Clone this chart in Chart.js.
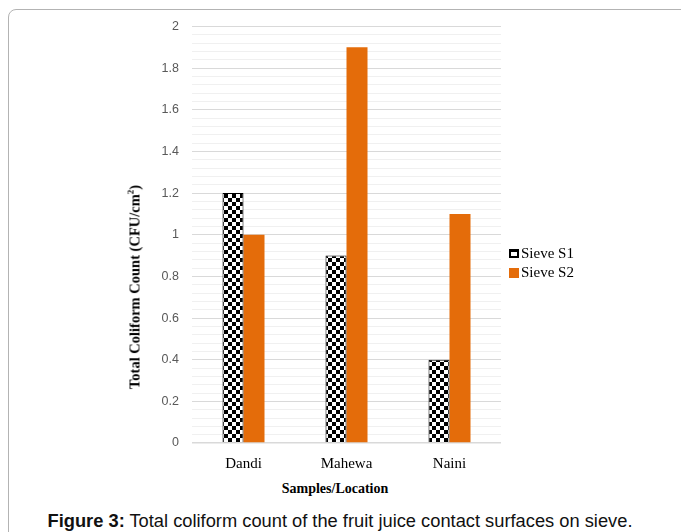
<!DOCTYPE html>
<html>
<head>
<meta charset="utf-8">
<script src="https://cdn.jsdelivr.net/npm/chart.js@4.4.1/dist/chart.umd.min.js"></script>
<style>
  html, body { margin: 0; padding: 0; background: #fff; overflow: hidden; }
  body { width: 681px; height: 532px; position: relative; }
  .frame { position: absolute; left: 8px; top: 9px; width: 720px; height: 600px;
           border: 1px solid #b3b3b3; border-radius: 8px; }
  #wrap { position: absolute; left: 100px; top: 6px; width: 420px; height: 474px; }
  .ytitle { position: absolute; left: 135px; top: 287px; transform: translate(-50%, -50%) rotate(-90deg);
            font: bold 14.5px "Liberation Serif", serif; white-space: nowrap; color: #000; }
  .ytitle sup { font-size: 9px; vertical-align: 6px; line-height: 0; }
  .xtitle { position: absolute; left: 335px; top: 489px; transform: translate(-50%, -50%);
            font: bold 14px "Liberation Serif", serif; white-space: nowrap; color: #000; }
  .legend { position: absolute; left: 509px; top: 244px; font: 15px "Liberation Serif", serif; color: #000; }
  .legend div { height: 19px; display: flex; align-items: center; }
  .legend .mk { width: 10px; height: 9px; margin-right: 2px; box-sizing: border-box; }
  .legend .s1 { border: 2px solid #000; border-top-width: 3px; background: #fff; }
  .legend .s2 { background: #E46C0A; height: 10px; }
  .caption { position: absolute; left: 340px; top: 521px; transform: translate(-50%, -50%);
             font: 18.3px "Liberation Sans", Arial, sans-serif; white-space: nowrap; color: #111; }
</style>
</head>
<body>
<div class="frame"></div>
<div id="wrap"><canvas id="chart"></canvas></div>
<div class="ytitle">Total Coliform Count (CFU/cm<sup>2</sup>)</div>
<div class="xtitle">Samples/Location</div>
<div class="legend">
  <div><span class="mk s1"></span>Sieve S1</div>
  <div><span class="mk s2"></span>Sieve S2</div>
</div>
<div class="caption"><b>Figure 3:</b> Total coliform count of the fruit juice contact surfaces on sieve.</div>

<script>
// data
const locations = ['Dandi', 'Mahewa', 'Naini'];
const sieveS1 = [1.2, 0.9, 0.4];
const sieveS2 = [1.0, 1.9, 1.1];
const seriesNames = ['Sieve S1', 'Sieve S2'];

// checkerboard fill for Sieve S1
function checker() {
  const c = document.createElement('canvas');
  c.width = 8; c.height = 8;
  const g = c.getContext('2d');
  g.fillStyle = '#fff';
  g.fillRect(0, 0, 8, 8);
  g.fillStyle = '#000';
  g.fillRect(0, 0, 4, 4);
  g.fillRect(4, 4, 4, 4);
  return g.createPattern(c, 'repeat');
}

const isMajor = v => Math.abs(v / 0.2 - Math.round(v / 0.2)) < 1e-6;

const ctx = document.getElementById('chart').getContext('2d');
new Chart(ctx, {
  type: 'bar',
  data: {
    labels: locations,
    datasets: [
      {
        label: seriesNames[0],
        data: sieveS1,
        backgroundColor: checker(),
        borderColor: '#000',
        borderWidth: 1
      },
      {
        label: seriesNames[1],
        data: sieveS2,
        backgroundColor: '#E46C0A',
        borderWidth: 0
      }
    ]
  },
  options: {
    responsive: true,
    maintainAspectRatio: false,
    animation: false,
    layout: { padding: { top: 14, right: 19, bottom: 0, left: 0 } },
    datasets: { bar: { categoryPercentage: 0.408, barPercentage: 1 } },
    plugins: { legend: { display: false }, tooltip: { enabled: false } },
    scales: {
      x: {
        grid: { display: false, drawTicks: false },
        border: { display: false },
        ticks: { color: '#000', padding: 12, font: { family: 'Liberation Serif', size: 15 } },
        afterFit: s => { s.height = 37; }
      },
      y: {
        min: 0,
        max: 2,
        ticks: {
          stepSize: 0.04,
          autoSkip: false,
          padding: 13,
          color: '#595959',
          font: { family: 'Liberation Sans', size: 12.5 },
          callback: v => isMajor(v) ? String(Math.round(v * 10) / 10) : ''
        },
        grid: {
          drawTicks: false,
          color: c => c.tick && isMajor(c.tick.value) ? '#d9d9d9' : '#f0f0f0',
          lineWidth: c => c.tick && c.tick.value === 0 ? 1.5 : 1
        },
        border: { display: false },
        afterFit: s => { s.width = 92; }
      }
    }
  }
});
</script>
</body>
</html>
